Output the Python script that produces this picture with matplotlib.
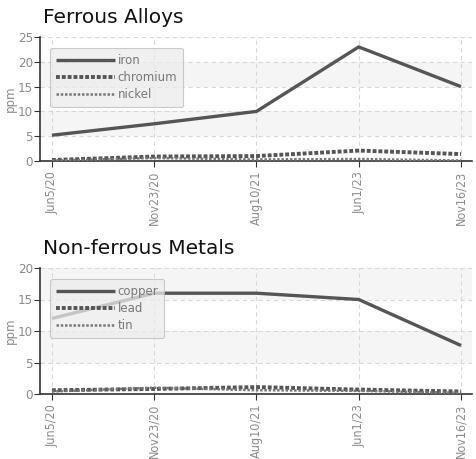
import matplotlib
matplotlib.use("Agg")
import matplotlib.pyplot as plt
import numpy as np

dates = ["Jun5/20", "Nov23/20", "Aug10/21", "Jun1/23", "Nov16/23"]

iron = [5.2, 7.5, 10.0, 23.0, 15.0]
chromium = [0.2, 0.9, 1.0, 2.1, 1.4]
nickel = [0.1, 0.6, 0.3, 0.4, 0.1]

copper = [12.0, 16.0, 16.0, 15.0, 7.7]
lead = [0.6, 0.8, 1.1, 0.7, 0.4]
tin = [0.4, 1.0, 0.6, 0.5, 0.2]

top_yticks = [0, 5, 10, 15, 20, 25]
bot_yticks = [0, 5, 10, 15, 20]

W, H = 477, 459
fig = plt.figure(figsize=(W / 100, H / 100), dpi=100)

def ax_rect(x0, y0, x1, y1):
    return [x0 / W, 1 - y1 / H, (x1 - x0) / W, (y1 - y0) / H]

tick_color = "#8a8a8a"
line_color = "#555555"

def draw(ax, title, names, series, yticks):
    x = np.arange(len(dates))
    ymax = yticks[-1]
    for lo in range(5, ymax, 10):
        ax.axhspan(lo, lo + 5, color="#f5f5f5", zorder=0, lw=0)
    styles = [
        dict(lw=2.4, ls="-", color=line_color),
        dict(lw=2.8, ls=(0, (1, 0.5)), color="#555555"),
        dict(lw=1.8, ls=(0, (1, 0.7)), color="#777777"),
    ]
    for name, s, st in zip(names, series, styles):
        ax.plot(x, s, label=name, zorder=3, solid_capstyle="butt",
                dash_capstyle="butt", **st)
    ax.set_xlim(-0.117, 4.108)
    ax.set_ylim(0, ymax)
    ax.set_xticks(x)
    ax.set_xticklabels(dates, rotation=90, color=tick_color, fontsize=9,
                       fontstretch="condensed")
    ax.set_yticks(yticks)
    ax.set_yticklabels([str(v) for v in yticks], color=tick_color, fontsize=9.5,
                       fontstretch="condensed")
    ax.grid(True, ls=(0, (4, 3)), color="#d8d8d8", lw=0.8)
    ax.set_axisbelow(True)
    for sp in ["top", "right"]:
        ax.spines[sp].set_visible(False)
    for sp in ["left", "bottom"]:
        ax.spines[sp].set_color("#333333")
        ax.spines[sp].set_linewidth(1.2)
    ax.tick_params(axis="y", direction="out", length=4, color="#333333", pad=1)
    ax.tick_params(axis="x", direction="out", length=4, color="#333333", pad=3)
    ax.set_ylabel("ppm", color=tick_color, fontsize=8.5, labelpad=1)
    ax.set_title(title, loc="left", fontsize=14.5, color="#111111", pad=10,
                 x=0.006)
    leg = ax.legend(loc="upper left", bbox_to_anchor=(0.01, 0.96), fancybox=True,
                    framealpha=0.75, facecolor="#ececec", edgecolor="#bbbbbb",
                    fontsize=8.5, handlelength=5.0, handletextpad=0.2,
                    labelspacing=0.35, borderpad=0.5, labelcolor="#777777")
    leg.get_frame().set_linewidth(0.8)

ax1 = fig.add_axes(ax_rect(40, 37, 472, 161))
draw(ax1, "Ferrous Alloys", ["iron", "chromium", "nickel"],
     [iron, chromium, nickel], top_yticks)

ax2 = fig.add_axes(ax_rect(40, 268, 472, 394))
draw(ax2, "Non-ferrous Metals", ["copper", "lead", "tin"],
     [copper, lead, tin], bot_yticks)

fig.savefig("out.png", dpi=100)
